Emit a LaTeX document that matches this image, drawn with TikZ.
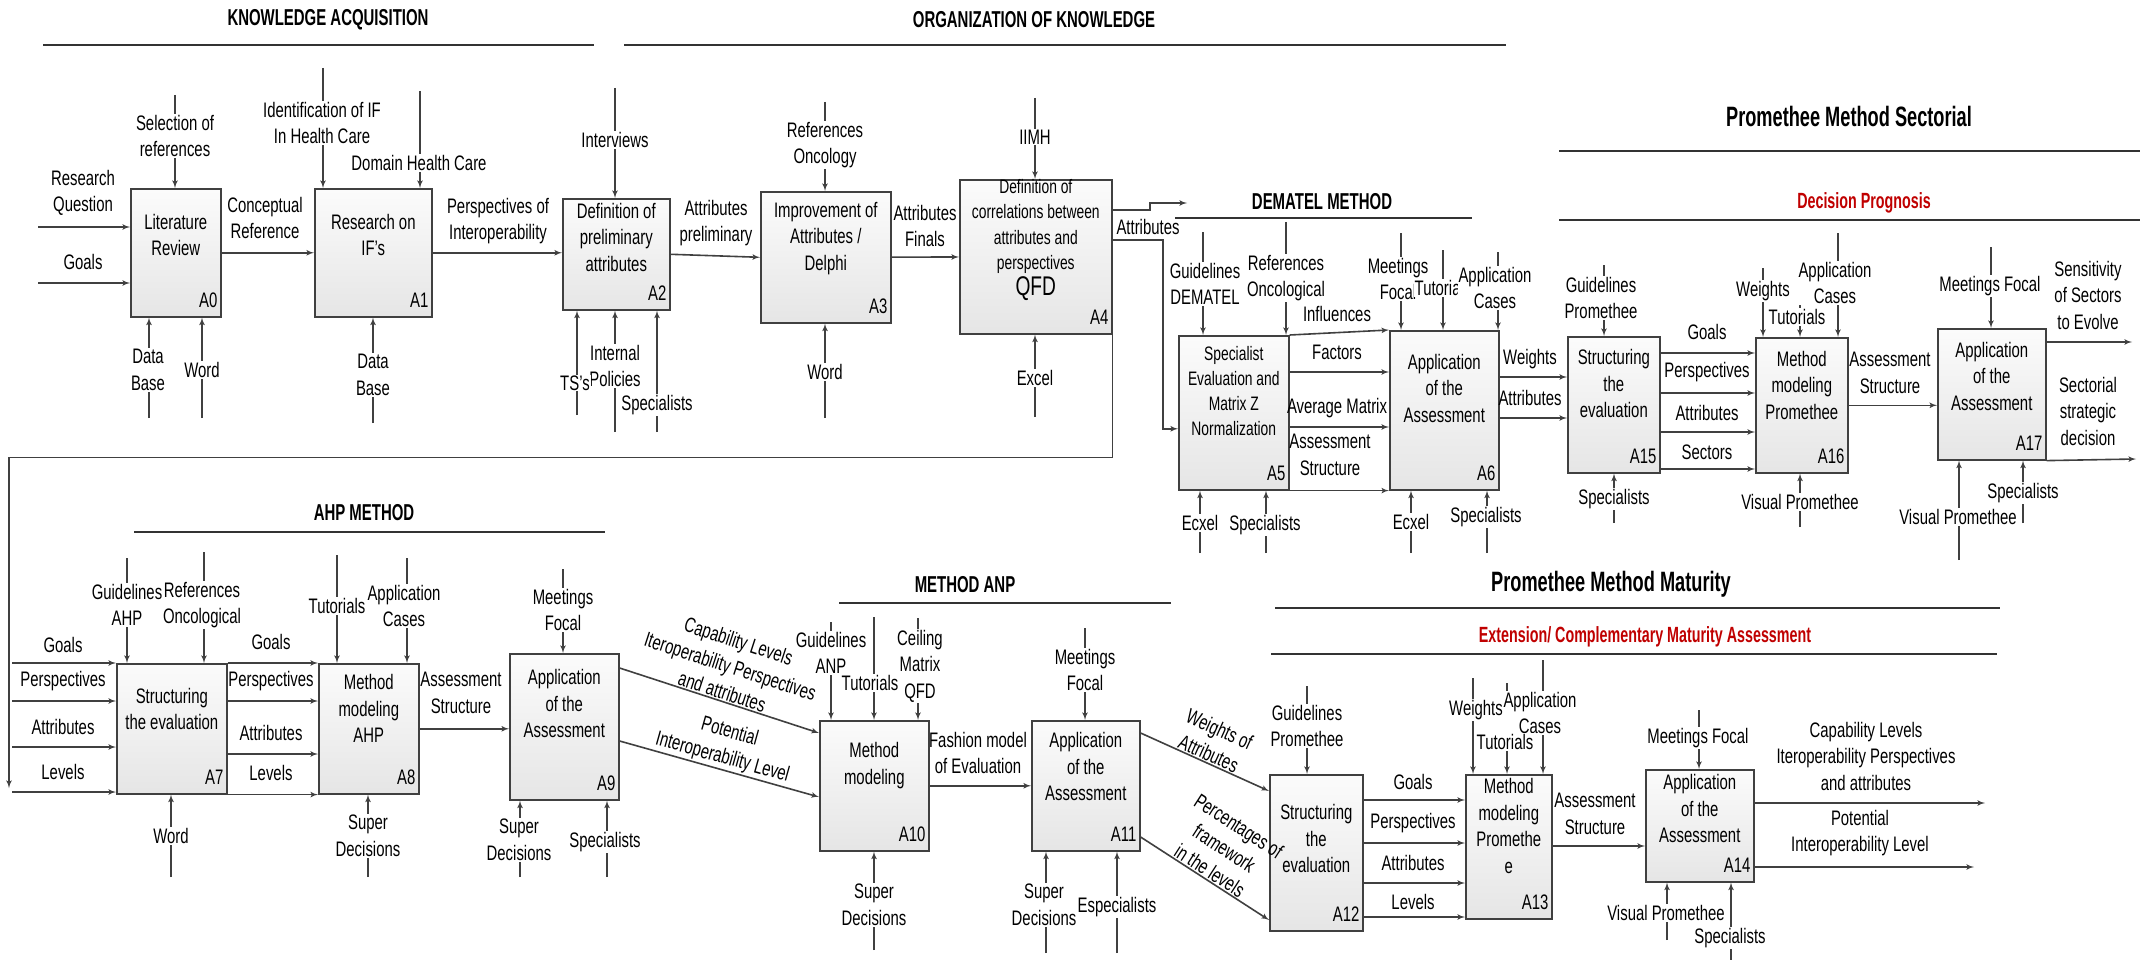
\documentclass[tikz,border=0pt]{standalone}
\usepackage{fontspec}
\setmainfont{Liberation Sans}[FakeStretch=0.71]
\newfontfamily\headfont{Liberation Sans}[FakeStretch=0.65]
\usepackage{xcolor}
\usepackage{tikz}
\usetikzlibrary{shapes,arrows,calc}
\definecolor{linegray}{RGB}{64,64,64}
\definecolor{prored}{RGB}{192,0,0}
\tikzstyle{block} = [rectangle, draw=linegray, line width=1.6pt, top color=gray!3, bottom color=gray!20, anchor=north west, inner sep=0pt]
\tikzstyle{btext} = [align=center, inner sep=0pt]
\tikzstyle{tag} = [anchor=south east, inner xsep=4pt, inner ysep=10pt]
\tikzstyle{line} = [draw=linegray, line width=1.6pt, -latex']
\tikzstyle{rule} = [draw=black!80, line width=1.6pt]
\tikzstyle{ctl} = [align=center, fill=white, inner sep=1pt]
\tikzstyle{flow} = [align=center, inner sep=1pt]
\tikzstyle{head} = [font=\headfont\bfseries\fontsize{23}{27}\selectfont]
\tikzstyle{bighead} = [font=\headfont\bfseries\fontsize{28}{32}\selectfont]
\tikzstyle{redhead} = [font=\headfont\bfseries\fontsize{22}{26}\selectfont, text=prored]

\begin{document}
\begin{tikzpicture}[x=1pt, y=-1pt, font=\fontsize{21}{26.5}\selectfont]
\useasboundingbox (0,0) rectangle (2141,960);

% headings
\node[head] (hka) at (328,20) {KNOWLEDGE ACQUISITION};
\draw[rule] (43,45) -- (594,45);
\node[head] (horg) at (1034,20) {ORGANIZATION OF KNOWLEDGE};
\draw[rule] (624,45) -- (1506,45);
\node[head] (hdem) at (1322,202) {DEMATEL METHOD};
\draw[rule] (1175,218) -- (1472,218);
\node[bighead] (hsec) at (1849,116) {Promethee Method Sectorial};
\draw[rule] (1559,151) -- (2140,151);
\node[redhead] (hdec) at (1864,203) {Decision Prognosis};
\draw[rule] (1559,220) -- (2140,220);
\node[head] (hahp) at (364,513) {AHP METHOD};
\draw[rule] (134,532) -- (605,532);
\node[head] (hanp) at (965,585) {METHOD ANP};
\draw[rule] (839,603) -- (1171,603);
\node[bighead] (hmat) at (1611,584) {Promethee Method Maturity};
\draw[rule] (1275,608) -- (2000,608);
\node[redhead] (hext) at (1645,637) {Extension/ Complementary Maturity Assessment};
\draw[rule] (1271,654) -- (1997,654);

% boxes, first row
\node[block, minimum width=90pt, minimum height=128pt] (a0) at (130,188) {};
\node[btext] (a0t) at ($(a0.center)+(0,-18)$) {Literature\\Review};
\node[tag] (a0id) at (a0.south east) {A0};
\node[block, minimum width=117pt, minimum height=128pt] (a1) at (314,188) {};
\node[btext] (a1t) at ($(a1.center)+(0,-18)$) {Research on\\IF's};
\node[tag] (a1id) at (a1.south east) {A1};
\node[block, minimum width=107pt, minimum height=111pt] (a2) at (562,198) {};
\node[btext] (a2t) at ($(a2.center)+(0,-17)$) {Definition of\\preliminary\\attributes};
\node[tag] (a2id) at (a2.south east) {A2};
\node[block, minimum width=130pt, minimum height=131pt] (a3) at (760,191) {};
\node[btext] (a3t) at ($(a3.center)+(0,-19)$) {Improvement of\\Attributes /\\Delphi};
\node[tag] (a3id) at (a3.south east) {A3};
\node[block, minimum width=152pt, minimum height=154pt] (a4) at (959,179) {};
\node[btext, font=\fontsize{19.5}{25.5}\selectfont] (a4t) at ($(a4.center)+(0,-17)$) {Definition of\\correlations between\\attributes and\\perspectives\\{\fontsize{27}{28}\selectfont QFD}};
\node[tag] (a4id) at (a4.south east) {A4};
\node[block, minimum width=110pt, minimum height=154pt] (a5) at (1178,335) {};
\node[btext, font=\fontsize{19.5}{25}\selectfont] (a5t) at ($(a5.center)+(0,-22)$) {Specialist\\Evaluation and\\Matrix Z\\Normalization};
\node[tag] (a5id) at (a5.south east) {A5};
\node[block, minimum width=109pt, minimum height=159pt] (a6) at (1389,330) {};
\node[btext] (a6t) at ($(a6.center)+(0,-22)$) {Application\\of the\\Assessment};
\node[tag] (a6id) at (a6.south east) {A6};
\node[block, minimum width=92pt, minimum height=136pt] (a15) at (1567,336) {};
\node[btext] (a15t) at ($(a15.center)+(0,-21)$) {Structuring\\the\\evaluation};
\node[tag] (a15id) at (a15.south east) {A15};
\node[block, minimum width=92pt, minimum height=135pt] (a16) at (1755,337) {};
\node[btext] (a16t) at ($(a16.center)+(0,-20)$) {Method\\modeling\\Promethee};
\node[tag] (a16id) at (a16.south east) {A16};
\node[block, minimum width=108pt, minimum height=131pt] (a17) at (1937,328) {};
\node[btext] (a17t) at ($(a17.center)+(0,-18)$) {Application\\of the\\Assessment};
\node[tag] (a17id) at (a17.south east) {A17};

% boxes, second row
\node[block, minimum width=110pt, minimum height=130pt] (a7) at (116,663) {};
\node[btext] (a7t) at ($(a7.center)+(0,-20)$) {Structuring\\the evaluation};
\node[tag] (a7id) at (a7.south east) {A7};
\node[block, minimum width=100pt, minimum height=130pt] (a8) at (318,663) {};
\node[btext] (a8t) at ($(a8.center)+(0,-20)$) {Method\\modeling\\AHP};
\node[tag] (a8id) at (a8.south east) {A8};
\node[block, minimum width=109pt, minimum height=146pt] (a9) at (509,653) {};
\node[btext] (a9t) at ($(a9.center)+(0,-23)$) {Application\\of the\\Assessment};
\node[tag] (a9id) at (a9.south east) {A9};
\node[block, minimum width=109pt, minimum height=130pt] (a10) at (819,720) {};
\node[btext] (a10t) at ($(a10.center)+(0,-20)$) {Method\\modeling};
\node[tag] (a10id) at (a10.south east) {A10};
\node[block, minimum width=108pt, minimum height=130pt] (a11) at (1031,720) {};
\node[btext] (a11t) at ($(a11.center)+(0,-19)$) {Application\\of the\\Assessment};
\node[tag] (a11id) at (a11.south east) {A11};
\node[block, minimum width=93pt, minimum height=156pt] (a12) at (1269,774) {};
\node[btext] (a12t) at ($(a12.center)+(0,-14)$) {Structuring\\the\\evaluation};
\node[tag] (a12id) at (a12.south east) {A12};
\node[block, minimum width=86pt, minimum height=144pt] (a13) at (1465,774) {};
\node[btext] (a13t) at ($(a13.center)+(0,-21)$) {Method\\modeling\\Promethe\\e};
\node[tag] (a13id) at (a13.south east) {A13};
\node[block, minimum width=108pt, minimum height=112pt] (a14) at (1645,769) {};
\node[btext] (a14t) at ($(a14.center)+(0,-17)$) {Application\\of the\\Assessment};
\node[tag] (a14id) at (a14.south east) {A14};

% A0
\coordinate (a0i1) at (38,227);
\coordinate (a0i2) at (38,283);
\coordinate (a0c1) at (175,95);
\coordinate (a0m1) at (149,418);
\coordinate (a0m2) at (202,418);
\path [line] (a0i1) -- (a0i1 -| a0.west);
\path [line] (a0i2) -- (a0i2 -| a0.west);
\path [line] (a0c1) -- (a0c1 |- a0.north);
\path [line] (a0m1) -- (a0m1 |- a0.south);
\path [line] (a0m2) -- (a0m2 |- a0.south);
\node[flow] (a0i1l) at (83,193) {Research\\Question};
\node[flow] (a0i2l) at (83,262) {Goals};
\node[ctl] (a0c1l) at (175,136) {Selection of\\references};
\node[ctl] (a0m1l) at (148,370) {Data\\Base};
\node[ctl] (a0m2l) at (202,370) {Word};

% A1
\path [line] (a0) -- (a1);
\node[flow] (a0o1l) at (265,218) {Conceptual\\Reference};
\coordinate (a1c1) at (323,68);
\coordinate (a1c2) at (420,91);
\coordinate (a1m1) at (373,423);
\path [line] (a1c1) -- (a1c1 |- a1.north);
\path [line] (a1c2) -- (a1c2 |- a1.north);
\path [line] (a1m1) -- (a1m1 |- a1.south);
\node[ctl] (a1c1l) at (322,123) {Identification of IF\\In Health Care};
\node[ctl] (a1c2l) at (419,163) {Domain Health Care};
\node[ctl] (a1m1l) at (373,375) {Data\\Base};

% A2
\path [line] (a1.east) -- (a1.east -| a2.west);
\node[flow] (a1o1l) at (498,221) {Perspectives of\\Interoperability};
\coordinate (a2c1) at (615,88);
\coordinate (a2m1) at (577,415);
\coordinate (a2m2) at (615,432);
\coordinate (a2m3) at (657,432);
\path [line] (a2c1) -- (a2c1 |- a2.north);
\path [line] (a2m1) -- (a2m1 |- a2.south);
\path [line] (a2m2) -- (a2m2 |- a2.south);
\path [line] (a2m3) -- (a2m3 |- a2.south);
\node[ctl] (a2c1l) at (615,140) {Interviews};
\node[ctl] (a2m2l) at (615,366) {Internal\\Policies};
\node[ctl] (a2m1l) at (575,383) {TS's};
\node[ctl] (a2m3l) at (657,405) {Specialists};

% A3
\path [line] (a2.east) -- (a3.west);
\node[flow] (a2o1l) at (716,223) {Attributes\\preliminary};
\coordinate (a3c1) at (825,102);
\coordinate (a3m1) at (825,418);
\path [line] (a3c1) -- (a3c1 |- a3.north);
\path [line] (a3m1) -- (a3m1 |- a3.south);
\node[ctl] (a3c1l) at (825,145) {References\\Oncology};
\node[ctl] (a3m1l) at (825,372) {Word};

% A4
\path [line] (a3) -- (a4);
\node[flow] (a3o1l) at (925,226) {Attributes\\Finals};
\coordinate (a4c1) at (1035,98);
\coordinate (a4m1) at (1035,417);
\path [line] (a4c1) -- (a4c1 |- a4.north);
\path [line] (a4m1) -- (a4m1 |- a4.south);
\node[ctl] (a4c1l) at (1035,137) {IIMH};
\node[ctl] (a4m1l) at (1035,378) {Excel};
\coordinate (a4o1) at (1187,203);
\path [line] ($(a4.north east)+(0,31)$) -| ($(a4o1)+(-37,0)$) -- (a4o1);
\path [line] ($(a4.north east)+(0,61)$) -| ($(a5.west)+(-15,16)$) -- ($(a5.west)+(0,16)$);
\node[flow] (a4o1l) at (1148,227) {Attributes};
\coordinate (fb) at (9,788);
\path [line] (a4.south east) -- ++(0,123) -| (fb);

% A5
\coordinate (a5c1) at (1203,232);
\coordinate (a5c2) at (1286,222);
\coordinate (a5m1) at (1200,553);
\coordinate (a5m2) at (1266,553);
\path [line] (a5c1) -- (a5c1 |- a5.north);
\path [line] (a5c2) -- (a5c2 |- a5.north);
\path [line] (a5m1) -- (a5m1 |- a5.south);
\path [line] (a5m2) -- (a5m2 |- a5.south);
\node[ctl] (a5c1l) at (1205,284) {Guidelines\\DEMATEL};
\node[ctl] (a5c2l) at (1286,278) {References\\Oncological};
\node[ctl] (a5m1l) at (1200,523) {Ecxel};
\node[ctl] (a5m2l) at (1265,525) {Specialists};

% A6
\coordinate (a5o2) at ($(a5.north east)+(0,37)$);
\coordinate (a5o3) at ($(a5.north east)+(0,92)$);
\path [line] (a5.north east) -- (a6.north west);
\path [line] (a5o2) -- (a5o2 -| a6.west);
\path [line] (a5o3) -- (a5o3 -| a6.west);
\path [line] (a5.south east) -- (a5.south east -| a6.west);
\node[flow] (a5o1l) at (1337,314) {Influences};
\node[flow] (a5o2l) at (1337,352) {Factors};
\node[flow] (a5o3l) at (1337,408) {Average Matrix};
\node[flow] (a5o4l) at (1330,455) {Assessment\\Structure};
\coordinate (a6c1) at (1401,233);
\coordinate (a6c2) at (1443,250);
\coordinate (a6c3) at (1498,252);
\coordinate (a6m1) at (1411,553);
\coordinate (a6m2) at (1487,553);
\path [line] (a6c1) -- (a6c1 |- a6.north);
\path [line] (a6c2) -- (a6c2 |- a6.north);
\path [line] (a6c3) -- (a6c3 |- a6.north);
\path [line] (a6m1) -- (a6m1 |- a6.south);
\path [line] (a6m2) -- (a6m2 |- a6.south);
\node[ctl] (a6c1l) at (1398,279) {Meetings\\Focal};
\node[ctl] (a6c2l) at (1443,288) {Tutorials};
\node[ctl] (a6c3l) at (1495,288) {Application\\Cases};
\node[ctl] (a6m1l) at (1411,522) {Ecxel};
\node[ctl] (a6m2l) at (1486,517) {Specialists};

% A15
\coordinate (a6o1) at ($(a6.north east)+(0,47)$);
\coordinate (a6o2) at ($(a6.north east)+(0,88)$);
\path [line] (a6o1) -- (a6o1 -| a15.west);
\path [line] (a6o2) -- (a6o2 -| a15.west);
\node[flow] (a6o1l) at (1530,359) {Weights};
\node[flow] (a6o2l) at (1530,398) {Attributes};
\coordinate (a15c1) at (1604,265);
\coordinate (a15m1) at (1614,523);
\path [line] (a15c1) -- (a15c1 |- a15.north);
\path [line] (a15m1) -- (a15m1 |- a15.south);
\node[ctl] (a15c1l) at (1601,298) {Guidelines\\Promethee};
\node[ctl] (a15m1l) at (1614,499) {Specialists};

% A16
\coordinate (a15o1) at ($(a15.north east)+(0,17)$);
\coordinate (a15o2) at ($(a15.north east)+(0,57)$);
\coordinate (a15o3) at ($(a15.north east)+(0,96)$);
\coordinate (a15o4) at ($(a15.north east)+(0,133)$);
\path [line] (a15o1) -- (a15o1 -| a16.west);
\path [line] (a15o2) -- (a15o2 -| a16.west);
\path [line] (a15o3) -- (a15o3 -| a16.west);
\path [line] (a15o4) -- (a15o4 -| a16.west);
\node[flow] (a15o1l) at (1707,332) {Goals};
\node[flow] (a15o2l) at (1707,372) {Perspectives};
\node[flow] (a15o3l) at (1707,413) {Attributes};
\node[flow] (a15o4l) at (1707,452) {Sectors};
\coordinate (a16c1) at (1763,268);
\coordinate (a16c2) at (1800,285);
\coordinate (a16c3) at (1838,233);
\coordinate (a16m1) at (1800,527);
\path [line] (a16c1) -- (a16c1 |- a16.north);
\path [line] (a16c2) -- (a16c2 |- a16.north);
\path [line] (a16c3) -- (a16c3 |- a16.north);
\path [line] (a16m1) -- (a16m1 |- a16.south);
\node[ctl] (a16c3l) at (1835,283) {Application\\Cases};
\node[ctl] (a16c1l) at (1763,291) {Weights};
\node[ctl] (a16c2l) at (1797,317) {Tutorials};
\node[ctl] (a16m1l) at (1800,502) {Visual Promethee};

% A17
\path [line] (a16.east) -- (a16.east -| a17.west);
\node[flow] (a16o1l) at (1890,373) {Assessment\\Structure};
\coordinate (a17c1) at (1991,247);
\coordinate (a17m1) at (1959,560);
\coordinate (a17m2) at (2023,523);
\path [line] (a17c1) -- (a17c1 |- a17.north);
\path [line] (a17m1) -- (a17m1 |- a17.south);
\path [line] (a17m2) -- (a17m2 |- a17.south);
\node[ctl] (a17c1l) at (1990,286) {Meetings Focal};
\node[ctl] (a17m1l) at (1958,517) {Visual Promethee};
\node[ctl] (a17m2l) at (2023,493) {Specialists};
\coordinate (a17o1) at (2132,342);
\coordinate (a17o2) at (2136,459);
\path [line] (a17o1 -| a17.east) -- (a17o1);
\path [line] (a17.south east) -- (a17o2);
\node[flow] (a17o1l) at (2088,295) {Sensitivity\\of Sectors\\to Evolve};
\node[flow] (a17o2l) at (2088,411) {Sectorial\\strategic\\decision};

% A7
\coordinate (a7i1) at (12,663);
\coordinate (a7i2) at (12,701);
\coordinate (a7i3) at (12,747);
\coordinate (a7i4) at (12,792);
\path [line] (a7i1) -- (a7i1 -| a7.west);
\path [line] (a7i2) -- (a7i2 -| a7.west);
\path [line] (a7i3) -- (a7i3 -| a7.west);
\path [line] (a7i4) -- (a7i4 -| a7.west);
\node[flow] (a7i1l) at (63,645) {Goals};
\node[flow] (a7i2l) at (63,681) {Perspectives};
\node[flow] (a7i3l) at (63,727) {Attributes};
\node[flow] (a7i4l) at (63,772) {Levels};
\coordinate (a7c1) at (127,558);
\coordinate (a7c2) at (204,552);
\coordinate (a7m1) at (171,877);
\path [line] (a7c1) -- (a7c1 |- a7.north);
\path [line] (a7c2) -- (a7c2 |- a7.north);
\path [line] (a7m1) -- (a7m1 |- a7.south);
\node[ctl] (a7c1l) at (127,605) {Guidelines\\AHP};
\node[ctl] (a7c2l) at (202,605) {References\\Oncological};
\node[ctl] (a7m1l) at (171,836) {Word};

% A8
\coordinate (a7o1) at (a7.north east);
\coordinate (a7o2) at ($(a7.north east)+(0,38)$);
\coordinate (a7o3) at ($(a7.north east)+(0,91)$);
\coordinate (a7o4) at (a7.south east);
\path [line] (a7o1) -- (a7o1 -| a8.west);
\path [line] (a7o2) -- (a7o2 -| a8.west);
\path [line] (a7o3) -- (a7o3 -| a8.west);
\path [line] (a7o4) -- (a7o4 -| a8.west);
\node[flow] (a7o1l) at (271,642) {Goals};
\node[flow] (a7o2l) at (271,681) {Perspectives};
\node[flow] (a7o3l) at (271,733) {Attributes};
\node[flow] (a7o4l) at (271,773) {Levels};
\coordinate (a8c1) at (337,555);
\coordinate (a8c2) at (407,558);
\coordinate (a8m1) at (368,877);
\path [line] (a8c1) -- (a8c1 |- a8.north);
\path [line] (a8c2) -- (a8c2 |- a8.north);
\path [line] (a8m1) -- (a8m1 |- a8.south);
\node[ctl] (a8c1l) at (337,606) {Tutorials};
\node[ctl] (a8c2l) at (404,606) {Application\\Cases};
\node[ctl] (a8m1l) at (368,836) {Super\\Decisions};

% A9
\path [line] (a8.east) -- (a8.east -| a9.west);
\node[flow] (a8o1l) at (461,693) {Assessment\\Structure};
\coordinate (a9c1) at (563,569);
\coordinate (a9m1) at (520,877);
\coordinate (a9m2) at (607,877);
\path [line] (a9c1) -- (a9c1 |- a9.north);
\path [line] (a9m1) -- (a9m1 |- a9.south);
\path [line] (a9m2) -- (a9m2 |- a9.south);
\node[ctl] (a9c1l) at (563,610) {Meetings\\Focal};
\node[ctl] (a9m1l) at (519,840) {Super\\Decisions};
\node[ctl] (a9m2l) at (605,842) {Specialists};

% A10
\path [line] ($(a9.north east)+(0,15)$) -- node[flow, sloped, above] (a9o1l) {Capability Levels\\Iteroperability Perspectives\\and attributes} ($(a10.north west)+(0,13)$);
\path [line] ($(a9.north east)+(0,88)$) -- node[flow, sloped, above] (a9o2l) {Potential\\Interoperability Level} ($(a10.north west)+(0,77)$);
\coordinate (a10c1) at (831,622);
\coordinate (a10c2) at (874,617);
\coordinate (a10c3) at (918,618);
\coordinate (a10m1) at (874,950);
\path [line] (a10c1) -- (a10c1 |- a10.north);
\path [line] (a10c2) -- (a10c2 |- a10.north);
\path [line] (a10c3) -- (a10c3 |- a10.north);
\path [line] (a10m1) -- (a10m1 |- a10.south);
\node[ctl] (a10c1l) at (831,653) {Guidelines\\ANP};
\node[ctl] (a10c3l) at (920,666) {Ceiling\\Matrix\\QFD};
\node[ctl] (a10c2l) at (870,683) {Tutorials};
\node[ctl] (a10m1l) at (874,905) {Super\\Decisions};

% A11
\path [line] (a10) -- (a11);
\node[flow] (a10o1l) at (978,753) {Fashion model\\of Evaluation};
\coordinate (a11c1) at (1085,628);
\coordinate (a11m1) at (1046,953);
\coordinate (a11m2) at (1117,953);
\path [line] (a11c1) -- (a11c1 |- a11.north);
\path [line] (a11m1) -- (a11m1 |- a11.south);
\path [line] (a11m2) -- (a11m2 |- a11.south);
\node[ctl] (a11c1l) at (1085,670) {Meetings\\Focal};
\node[ctl] (a11m1l) at (1044,905) {Super\\Decisions};
\node[ctl] (a11m2l) at (1117,907) {Especialists};

% A12
\path [line] ($(a11.north east)+(0,13)$) -- node[flow, sloped, above] (a11o1l) {Weights of\\Attributes} ($(a12.north west)+(0,17)$);
\path [line] ($(a11.north east)+(0,117)$) -- node[flow, sloped, above] (a11o2l) {Percentages of\\framework\\in the levels} ($(a12.north west)+(0,146)$);
\coordinate (a12c1) at (1307,686);
\path [line] (a12c1) -- (a12c1 |- a12.north);
\node[ctl] (a12c1l) at (1307,726) {Guidelines\\Promethee};

% A13
\coordinate (a12o1) at ($(a12.north east)+(0,26)$);
\coordinate (a12o2) at ($(a12.north east)+(0,69)$);
\coordinate (a12o3) at ($(a12.north east)+(0,109)$);
\coordinate (a12o4) at ($(a12.north east)+(0,143)$);
\path [line] (a12o1) -- (a12o1 -| a13.west);
\path [line] (a12o2) -- (a12o2 -| a13.west);
\path [line] (a12o3) -- (a12o3 -| a13.west);
\path [line] (a12o4) -- (a12o4 -| a13.west);
\node[flow] (a12o1l) at (1413,782) {Goals};
\node[flow] (a12o2l) at (1413,823) {Perspectives};
\node[flow] (a12o3l) at (1413,863) {Attributes};
\node[flow] (a12o4l) at (1413,902) {Levels};
\coordinate (a13c1) at (1473,678);
\coordinate (a13c2) at (1507,683);
\coordinate (a13c3) at (1543,660);
\path [line] (a13c1) -- (a13c1 |- a13.north);
\path [line] (a13c2) -- (a13c2 |- a13.north);
\path [line] (a13c3) -- (a13c3 |- a13.north);
\node[ctl] (a13c1l) at (1476,710) {Weights};
\node[ctl] (a13c3l) at (1540,713) {Application\\Cases};
\node[ctl] (a13c2l) at (1505,742) {Tutorials};

% A14
\coordinate (a13o1) at ($(a13.north east)+(0,72)$);
\path [line] (a13o1) -- (a13o1 -| a14.west);
\node[flow] (a13o1l) at (1595,814) {Assessment\\Structure};
\coordinate (a14c1) at (1699,710);
\coordinate (a14m1) at (1667,940);
\coordinate (a14m2) at (1731,960);
\path [line] (a14c1) -- (a14c1 |- a14.north);
\path [line] (a14m1) -- (a14m1 |- a14.south);
\path [line] (a14m2) -- (a14m2 |- a14.south);
\node[ctl] (a14c1l) at (1698,738) {Meetings Focal};
\node[ctl] (a14m1l) at (1666,913) {Visual Promethee};
\node[ctl] (a14m2l) at (1730,938) {Specialists};
\coordinate (a14o1) at (1985,803);
\coordinate (a14o2) at (1974,867);
\path [line] (a14o1 -| a14.east) -- (a14o1);
\path [line] (a14o2 -| a14.east) -- (a14o2);
\node[flow] (a14o1l) at (1866,756) {Capability Levels\\Iteroperability Perspectives\\and attributes};
\node[flow] (a14o2l) at (1860,833) {Potential\\Interoperability Level};

\end{tikzpicture}
\end{document}
